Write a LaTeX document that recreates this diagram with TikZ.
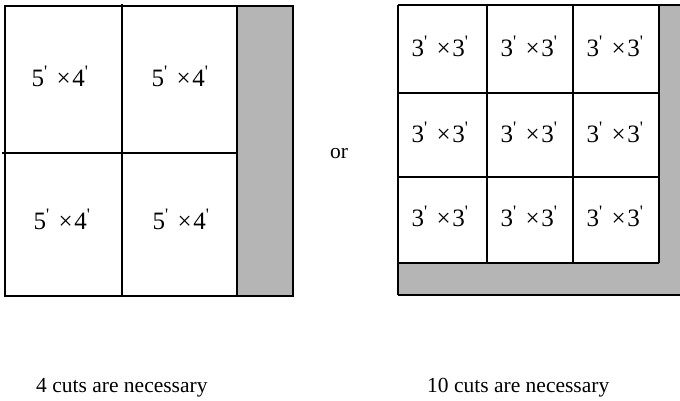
\documentclass[tikz,border=0pt]{standalone}
\usepackage{fontspec}
\setmainfont{Liberation Serif}
\newcommand{\dimlabel}[2]{#1\textsuperscript{\textquotesingle}\hspace{0.36em}×\hspace{0.06em}#2\textsuperscript{\textquotesingle}}
\tikzset{
  edge/.style={line width=1.4pt, black},
  waste/.style={fill=gray!58, draw=none},
  celltext/.style={inner sep=0pt, font=\fontsize{25}{28}\selectfont},
  caption/.style={inner sep=0pt, anchor=base west, font=\fontsize{21.5}{24}\selectfont},
}
\begin{document}
\begin{tikzpicture}[x=1pt,y=-1pt]
\useasboundingbox (0,0) rectangle (680,401);
% left sheet
\fill[waste] (237,6) rectangle (293,296);
\draw[edge] (5,6) rectangle (293,296);
\draw[edge] (122,4) -- (122,296);
\draw[edge] (237,6) -- (237,296);
\draw[edge] (2,153) -- (237,153);
\node[celltext] (a1) at (60,76) {\dimlabel{5}{4}};
\node[celltext] (a2) at (180,76) {\dimlabel{5}{4}};
\node[celltext] (a3) at (62,219) {\dimlabel{5}{4}};
\node[celltext] (a4) at (181,219) {\dimlabel{5}{4}};
% or
\node[inner sep=0pt, anchor=base, font=\fontsize{21.5}{24}\selectfont] (or) at (339,159) {or};
% right sheet
\fill[waste] (659,5) rectangle (681,295);
\fill[waste] (398,263) rectangle (681,295);
\draw[edge] (398,5) -- (681,5);
\draw[edge] (398,295) -- (681,295);
\draw[edge] (398,5) -- (398,295);
\draw[edge] (487,4) -- (487,263);
\draw[edge] (573,4) -- (573,263);
\draw[edge] (659,5) -- (659,263);
\draw[edge] (398,93) -- (659,93);
\draw[edge] (398,177) -- (659,177);
\draw[edge] (398,263) -- (659,263);
\node[celltext] (b11) at (440,46) {\dimlabel{3}{3}};
\node[celltext] (b12) at (529,46) {\dimlabel{3}{3}};
\node[celltext] (b13) at (615,46) {\dimlabel{3}{3}};
\node[celltext] (b21) at (440,132) {\dimlabel{3}{3}};
\node[celltext] (b22) at (529,132) {\dimlabel{3}{3}};
\node[celltext] (b23) at (615,132) {\dimlabel{3}{3}};
\node[celltext] (b31) at (440,216) {\dimlabel{3}{3}};
\node[celltext] (b32) at (529,216) {\dimlabel{3}{3}};
\node[celltext] (b33) at (615,216) {\dimlabel{3}{3}};
% captions
\node[caption] (c1) at (36,392) {4 cuts are necessary};
\node[caption] (c2) at (427,392) {10 cuts are necessary};
\end{tikzpicture}
\end{document}
